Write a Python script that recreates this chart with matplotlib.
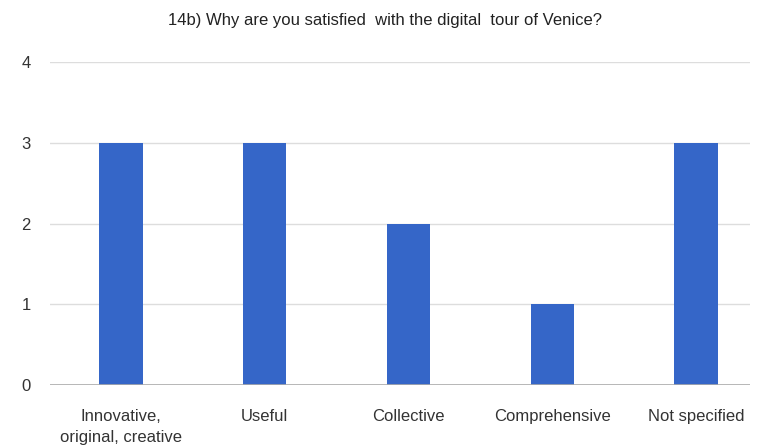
import matplotlib
matplotlib.use('Agg')
from matplotlib import pyplot as plt
from matplotlib import font_manager

reasons = ['Innovative,\noriginal, creative', 'Useful', 'Collective',
           'Comprehensive', 'Not specified']
counts = [3, 3, 2, 1, 3]
y_ticks = [0, 1, 2, 3, 4]

names = {f.name for f in font_manager.fontManager.ttflist}
font = 'Liberation Sans Narrow' if 'Liberation Sans Narrow' in names else 'Liberation Sans'
plt.rcParams['font.family'] = [font, 'DejaVu Sans']

fig = plt.figure(figsize=(7.7, 4.47), dpi=100)
ax = fig.add_axes([50/770, 1 - 385/447, 700/770, (385 - 62)/447])

x = range(len(reasons))
ax.bar(x, counts, width=0.3, color='#3566c8', zorder=3)

ax.set_xlim(-0.494, 4.376)
ax.set_ylim(0, 4)
ax.set_yticks(y_ticks)
ax.set_yticklabels([str(v) for v in y_ticks], fontsize=12, color='#333333')
ax.set_xticks(list(x))
ax.set_xticklabels(reasons, fontsize=12, color='#333333', linespacing=1.5)
ax.tick_params(axis='both', length=0)
ax.tick_params(axis='y', pad=14)
ax.tick_params(axis='x', pad=17)

for v in y_ticks[1:]:
    ax.axhline(v, color='#dddddd', lw=1, zorder=1)
ax.axhline(0, color='#aaaaaa', lw=1.2, zorder=4)
for s in ax.spines.values():
    s.set_visible(False)

fig.text(0.5, 1 - 21/447, '14b) Why are you satisfied  with the digital  tour of Venice?',
         ha='center', va='center', fontsize=12, color='#222222')

fig.savefig('out.png', dpi=100)
